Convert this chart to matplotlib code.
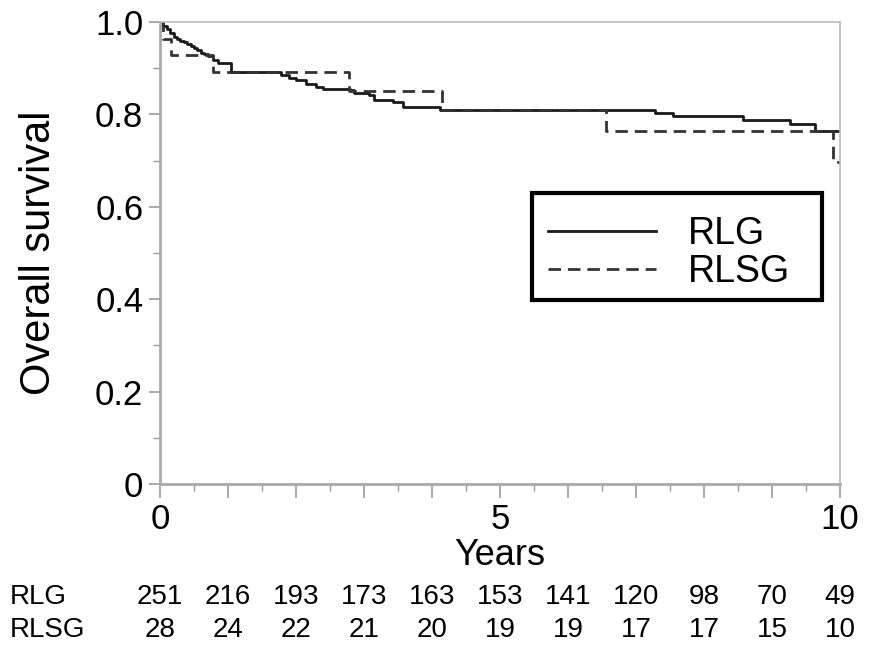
import matplotlib
matplotlib.use("Agg")
import matplotlib.pyplot as plt
from matplotlib.ticker import MultipleLocator
from matplotlib.patches import Rectangle

plt.rcParams['font.family'] = ['Liberation Sans', 'DejaVu Sans']

# Kaplan-Meier steps (years, survival)
rlg_t = [0, 0.05, 0.1, 0.15, 0.2, 0.25, 0.3, 0.35, 0.4, 0.45, 0.5, 0.55, 0.6,
         0.65, 0.7, 0.78, 0.85, 1.05, 1.78, 1.9, 2.0, 2.15, 2.3, 2.4, 2.8,
         2.85, 3.08, 3.15, 3.42, 3.58, 4.12, 7.28, 7.54, 8.58, 9.26, 9.63, 10]
rlg_s = [1.0, 0.992, 0.984, 0.976, 0.968, 0.964, 0.960, 0.956, 0.952, 0.948,
         0.944, 0.940, 0.934, 0.930, 0.926, 0.919, 0.912, 0.892, 0.885, 0.880,
         0.874, 0.866, 0.860, 0.856, 0.852, 0.847, 0.842, 0.831, 0.827, 0.817,
         0.810, 0.804, 0.797, 0.788, 0.779, 0.765, 0.765]

rlsg_t = [0, 0.05, 0.16, 0.78, 2.78, 4.14, 6.56, 9.89, 10]
rlsg_s = [1.0, 0.964, 0.929, 0.893, 0.850, 0.810, 0.764, 0.698, 0.698]

# numbers at risk
risk_years = [0, 1, 2, 3, 4, 5, 6, 7, 8, 9, 10]
rlg_risk = [251, 216, 193, 173, 163, 153, 141, 120, 98, 70, 49]
rlsg_risk = [28, 24, 22, 21, 20, 19, 19, 17, 17, 15, 10]

fig = plt.figure(figsize=(8.71, 6.5), dpi=100)
ax = fig.add_axes([0.1837, 0.2554, 0.7807, 0.7106])

ax.step(rlg_t, rlg_s, where='post', color='#1a1a1a', lw=2, label='RLG')
ax.step(rlsg_t, rlsg_s, where='post', color='#333333', lw=2,
        linestyle=(0, (4.5, 2.5)), label='RLSG')

ax.set_xlim(0, 10)
ax.set_ylim(0, 1.0)
ax.set_xticks([0, 1, 2, 3, 4, 5, 6, 7, 8, 9, 10])
ax.set_xticklabels(['0', '', '', '', '', '5', '', '', '', '', '10'])
ax.xaxis.set_minor_locator(MultipleLocator(0.5))
ax.set_yticks([0, 0.2, 0.4, 0.6, 0.8, 1.0])
ax.set_yticklabels(['0', '0.2', '0.4', '0.6', '0.8', '1.0'])
ax.yaxis.set_minor_locator(MultipleLocator(0.1))

ax.tick_params(axis='both', which='major', direction='out', color='#999999',
               width=1.2, labelsize=25, pad=4)
ax.tick_params(axis='x', which='major', length=10)
ax.tick_params(axis='y', which='major', length=8)
ax.tick_params(axis='both', which='minor', direction='out', color='#999999',
               width=1.0, length=5)

for side in ['left', 'bottom']:
    ax.spines[side].set_color('#aaaaaa')
    ax.spines[side].set_linewidth(2)
for side in ['top', 'right']:
    ax.spines[side].set_color('#bbbbbb')
    ax.spines[side].set_linewidth(1.2)
    ax.spines[side].set_linestyle((0, (1, 1)))

ax.set_xlabel('Years', fontsize=26, labelpad=1)
ax.set_ylabel('Overall survival', fontsize=30, labelpad=26)

# legend with a hand-drawn box so its size matches
ax.add_patch(Rectangle((0.547, 0.398), 0.427, 0.232, transform=ax.transAxes,
                       fill=False, edgecolor='black', lw=3, zorder=5))
leg = ax.legend(loc='upper left', bbox_to_anchor=(0.57, 0.58), fontsize=27,
                frameon=False, handlelength=2.9, handletextpad=0.85,
                borderpad=0, labelspacing=0.05, borderaxespad=0)

# risk table below the axis
tr = ax.get_xaxis_transform()
for yr, a, b in zip(risk_years, rlg_risk, rlsg_risk):
    ax.text(yr, -0.245, str(a), transform=tr, ha='center', va='center',
            fontsize=20, clip_on=False)
    ax.text(yr, -0.316, str(b), transform=tr, ha='center', va='center',
            fontsize=20, clip_on=False)
fig.text(10 / 871, 1 - 597 / 650, 'RLG', ha='left', va='center', fontsize=20)
fig.text(10 / 871, 1 - 630 / 650, 'RLSG', ha='left', va='center', fontsize=20)

fig.savefig('out.png', dpi=100)
